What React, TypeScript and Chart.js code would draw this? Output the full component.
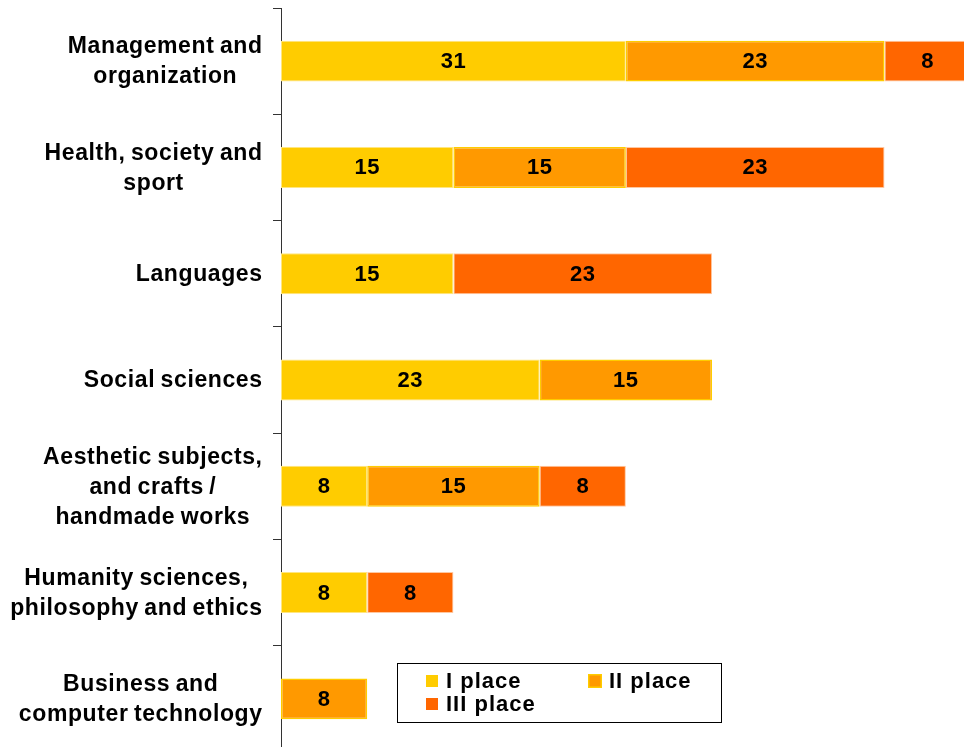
import React, { useEffect, useRef } from "react";
import { Chart, registerables } from "chart.js";

Chart.register(...registerables);

const categories: string[][] = [
  ["Management and", "organization"],
  ["Health, society and", "sport"],
  ["Languages"],
  ["Social sciences"],
  ["Aesthetic subjects,", "and crafts /", "handmade works"],
  ["Humanity sciences,", "philosophy and ethics"],
  ["Business and", "computer technology"],
];

const firstPlace = [30.8, 15.4, 15.4, 23.1, 7.7, 7.7, 0];
const secondPlace = [23.1, 15.4, 0, 15.4, 15.4, 0, 7.7];
const thirdPlace = [7.7, 23.1, 23.1, 0, 7.7, 7.7, 0];

const seriesNames = ["I place", "II place", "III place"];
const FONT = "'Liberation Sans', Arial, sans-serif";

// Category labels: each block right-aligned against the axis, lines centred inside the block
const categoryLabels = {
  id: "categoryLabels",
  afterDraw(chart: any) {
    const ctx = chart.ctx;
    const yScale = chart.scales.y;
    const right = yScale.right - 19;
    const lineH = 30;
    ctx.save();
    ctx.font = `bold 23px ${FONT}`;
    ctx.letterSpacing = "0.6px";
    (ctx as any).wordSpacing = "-1.5px";
    ctx.fillStyle = "#000";
    ctx.textAlign = "center";
    ctx.textBaseline = "middle";
    categories.forEach((lines, i) => {
      const cy = yScale.getPixelForValue(i);
      const w = Math.max(...lines.map((l) => ctx.measureText(l).width));
      const cx = right - w / 2 + 0.6;
      const y0 = cy - ((lines.length - 1) * lineH) / 2;
      lines.forEach((l, k) => ctx.fillText(l, cx, y0 + k * lineH + 1));
    });
    ctx.restore();
  },
};

const dataLabels = {
  id: "dataLabels",
  afterDatasetsDraw(chart: any) {
    const ctx = chart.ctx;
    const area = chart.chartArea;
    ctx.save();
    ctx.letterSpacing = "0.5px";
    ctx.font = `bold 22px ${FONT}`;
    ctx.fillStyle = "#000";
    ctx.textAlign = "center";
    ctx.textBaseline = "middle";
    chart.data.datasets.forEach((ds: any, di: number) => {
      const meta = chart.getDatasetMeta(di);
      meta.data.forEach((el: any, i: number) => {
        const v = ds.data[i];
        if (!v) return;
        const { x, base, y } = el.getProps(["x", "base", "y"], true);
        let cx = (x + base) / 2;
        cx = Math.min(cx, area.right - 35);
        ctx.fillText(String(Math.round(v)), cx, y + 1);
      });
    });
    ctx.restore();
  },
};

const legendBox = {
  id: "legendBox",
  afterDraw(chart: any) {
    const ctx = chart.ctx;
    const bx = 397, by = 663, bw = 324, bh = 59;
    ctx.save();
    ctx.fillStyle = "#fff";
    ctx.fillRect(bx, by, bw, bh);
    ctx.strokeStyle = "#000";
    ctx.lineWidth = 1;
    ctx.strokeRect(bx + 0.5, by + 0.5, bw, bh);
    const items = [
      { x: 426, sq: 675, base: 688, i: 0 },
      { x: 588, sq: 674, base: 688, i: 1 },
      { x: 426, sq: 698, base: 711, i: 2 },
    ];
    ctx.letterSpacing = "1px";
    ctx.font = `bold 22px ${FONT}`;
    ctx.textBaseline = "alphabetic";
    ctx.textAlign = "left";
    items.forEach((it) => {
      const ds = chart.data.datasets[it.i];
      ctx.fillStyle = ds.backgroundColor;
      if (it.i === 1) {
        ctx.fillRect(it.x, it.sq, 14, 14);
        ctx.strokeStyle = "#FFCC00";
        ctx.lineWidth = 1.5;
        ctx.strokeRect(it.x + 0.75, it.sq + 0.75, 12.5, 12.5);
      } else {
        ctx.fillRect(it.x, it.sq, 12, 12);
      }
      ctx.fillStyle = "#000";
      ctx.fillText(seriesNames[it.i], it.x + (it.i === 1 ? 21 : 20), it.base);
    });
    ctx.restore();
  },
};

export default function App() {
  const ref = useRef<HTMLCanvasElement | null>(null);
  useEffect(() => {
    if (!ref.current) return;
    const chart = new Chart(ref.current, {
      type: "bar",
      data: {
        labels: categories,
        datasets: [
          {
            label: seriesNames[0],
            data: firstPlace,
            backgroundColor: "#FFCC00",
            borderColor: "#FFE680",
            borderWidth: 1,
            borderSkipped: false,
          },
          {
            label: seriesNames[1],
            data: secondPlace,
            backgroundColor: "#FF9900",
            borderColor: "#FFCC00",
            borderWidth: 1.5,
            borderSkipped: false,
          },
          {
            label: seriesNames[2],
            data: thirdPlace,
            backgroundColor: "#FF6600",
            borderColor: "#FFC7A0",
            borderWidth: 1,
            borderSkipped: false,
          },
        ],
      },
      options: {
        indexAxis: "y",
        responsive: false,
        animation: false,
        maintainAspectRatio: false,
        devicePixelRatio: 1,
        layout: { padding: { top: 8, right: 0, bottom: 0, left: 0 } },
        datasets: { bar: { barPercentage: 0.385, categoryPercentage: 1 } },
        plugins: {
          legend: { display: false },
          tooltip: { enabled: false },
        },
        scales: {
          x: {
            stacked: true,
            display: false,
            min: 0,
            max: 61,
          },
          y: {
            stacked: true,
            afterFit: (scale: any) => {
              scale.width = 281;
              scale.paddingTop = 0;
              scale.paddingBottom = 0;
            },
            border: { display: true, color: "#333", width: 1 },
            grid: {
              offset: true,
              drawOnChartArea: false,
              drawTicks: true,
              tickLength: 8,
              color: "#333",
            },
            ticks: {
              color: "rgba(0,0,0,0)",
              padding: 10,
              font: { family: FONT, size: 22, weight: "bold", lineHeight: 30 / 22 },
            },
          },
        },
      },
      plugins: [categoryLabels, dataLabels, legendBox],
    });
    return () => chart.destroy();
  }, []);
  return (
    <div style={{ position: "fixed", left: 0, top: 0, width: 964, height: 747, overflow: "hidden", background: "#fff" }}>
      <canvas ref={ref} width={964} height={752} style={{ display: "block" }} />
    </div>
  );
}
